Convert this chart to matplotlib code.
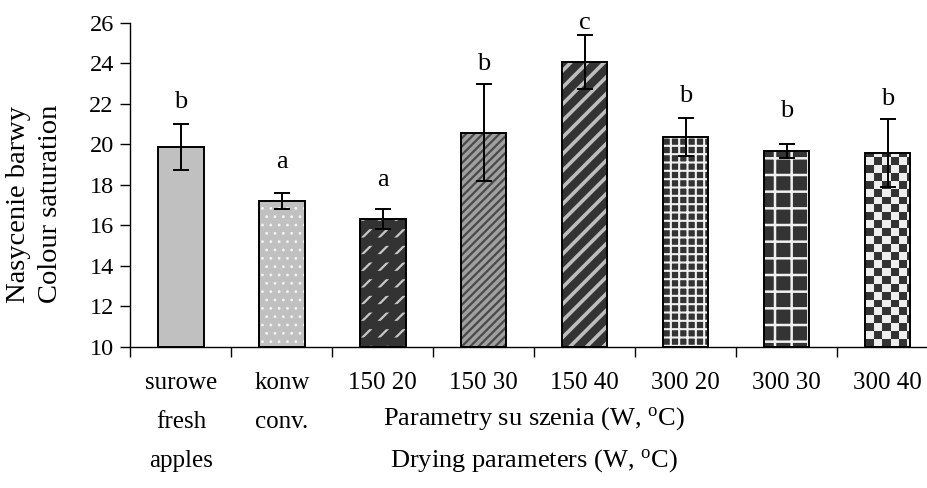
import numpy as np
import matplotlib
matplotlib.use("Agg")
import matplotlib.pyplot as plt

plt.rcParams['font.family'] = ['Liberation Serif', 'DejaVu Serif']
plt.rcParams['mathtext.fontset'] = 'custom'
plt.rcParams['mathtext.rm'] = 'Liberation Serif'
plt.rcParams['mathtext.it'] = 'Liberation Serif:italic'

# ---- data ----
categories = ['surowe\nfresh\napples', 'konw\nconv.', '150 20', '150 30',
              '150 40', '300 20', '300 30', '300 40']
values = [19.85, 17.22, 16.33, 20.58, 24.05, 20.35, 19.68, 19.56]
errors = [1.13, 0.39, 0.49, 2.41, 1.34, 0.94, 0.36, 1.68]
letters = ['b', 'a', 'a', 'b', 'c', 'b', 'b', 'b']
letter_y = [21.79, 18.83, 17.94, 23.67, 25.69, 22.10, 21.33, 21.94]
y_ticks = [10, 12, 14, 16, 18, 20, 22, 24, 26]
y_label = 'Nasycenie barwy\nColour saturation'
x_label = 'Parametry su szenia (W, $^{\\mathrm{o}}$C)\nDrying parameters (W, $^{\\mathrm{o}}$C)'

# ---- styles: (face, hatch, hatch colour, hatch linewidth) ----
styles = [
    ('#C0C0C0', None, None, 0),
    ('#C0C0C0', '..', '#F4F4F4', 0.8),
    ('#333333', '//', '#C8C8C8', 1.6),
    ('#A0A0A0', '////', '#4A4A4A', 1.6),
    ('#333333', '//', '#BDBDBD', 2.6),
    ('#333333', '++', '#F0F0F0', 1.5),
    ('#333333', '+', '#F0F0F0', 1.8),
    ('#333333', None, None, 0),
]

W, H, DPI = 9.28, 4.88, 100
fig = plt.figure(figsize=(W, H), dpi=DPI)
ax_left_px, ax_right_px = 130.5, 938.0
ax_top_px, ax_bot_px = 22.7, 347.0
ax = fig.add_axes([ax_left_px / 928, (488 - ax_bot_px) / 488,
                   (ax_right_px - ax_left_px) / 928, (ax_bot_px - ax_top_px) / 488])

x = np.arange(len(categories))
bw = 0.45
ax.set_xlim(-0.5, len(categories) - 0.5)
ax.set_ylim(10, 26)

bars = ax.bar(x, np.array(values) - 10, bottom=10, width=bw,
              color=[s[0] for s in styles], linewidth=0, zorder=1)

for i, (face, hatch, hc, hlw) in enumerate(styles):
    if hatch is None:
        continue
    hb = ax.bar(x[i], values[i] - 10, bottom=10, width=bw, color='none',
                edgecolor=hc, linewidth=0, hatch=hatch, zorder=1.2)[0]
    if hasattr(hb, 'set_hatch_linewidth'):
        hb.set_hatch_linewidth(hlw)

# break the diagonals of bar 3 into short dashes
db = ax.bar(x[2], values[2] - 10, bottom=10, width=bw, color='none',
            edgecolor='#333333', linewidth=0, hatch='-', zorder=1.3)[0]
if hasattr(db, 'set_hatch_linewidth'):
    db.set_hatch_linewidth(6.0)

# checkerboard for the last bar
fig.canvas.draw()
bb = ax.get_window_extent()
nx = int(round(bb.width / 8.0))
ny = int(round(bb.height / 8.0))
checker = (np.add.outer(np.arange(ny), np.arange(nx)) % 2).astype(float)
im = ax.imshow(checker, cmap=matplotlib.colors.ListedColormap(['#333333', '#EEEEEE']),
               extent=(-0.5, len(categories) - 0.5, 10, 26), aspect='auto',
               interpolation='nearest', origin='lower', zorder=1.1)
im.set_clip_path(bars[7])
ax.set_xlim(-0.5, len(categories) - 0.5)
ax.set_ylim(10, 26)

# outlines
ax.bar(x, np.array(values) - 10, bottom=10, width=bw, color='none',
       edgecolor='black', linewidth=1.4, zorder=2)

ax.errorbar(x, values, yerr=errors, fmt='none', ecolor='black',
            elinewidth=1.4, capsize=5.5, capthick=1.4, zorder=3)

for xi, ly, t in zip(x, letter_y, letters):
    ax.text(xi, ly, t, ha='center', va='baseline', fontsize=19)

for s in ['top', 'right']:
    ax.spines[s].set_visible(False)
for s in ['left', 'bottom']:
    ax.spines[s].set_linewidth(1.0)
    ax.spines[s].set_color('black')

ax.set_yticks(y_ticks)
ax.set_yticklabels([str(v) for v in y_ticks])
ax.tick_params(axis='y', direction='out', length=7, width=1.0, pad=5, labelsize=17.5)

ax.set_xticks(x)
ax.set_xticklabels(categories, linespacing=2.0)
ax.set_xticks(np.arange(-0.5, len(categories)), minor=True)
ax.tick_params(axis='x', which='major', length=0, pad=18, labelsize=18)
ax.tick_params(axis='x', which='minor', direction='out', length=7, width=1.0)

ax.set_xlabel(x_label, fontsize=19, linespacing=1.75)
ax.xaxis.set_label_coords(0.5, -0.18)
ax.set_ylabel(y_label, fontsize=20.5, linespacing=1.4)
ax.yaxis.set_label_coords(-0.083, 0.44)

fig.savefig('out.png', dpi=DPI)
